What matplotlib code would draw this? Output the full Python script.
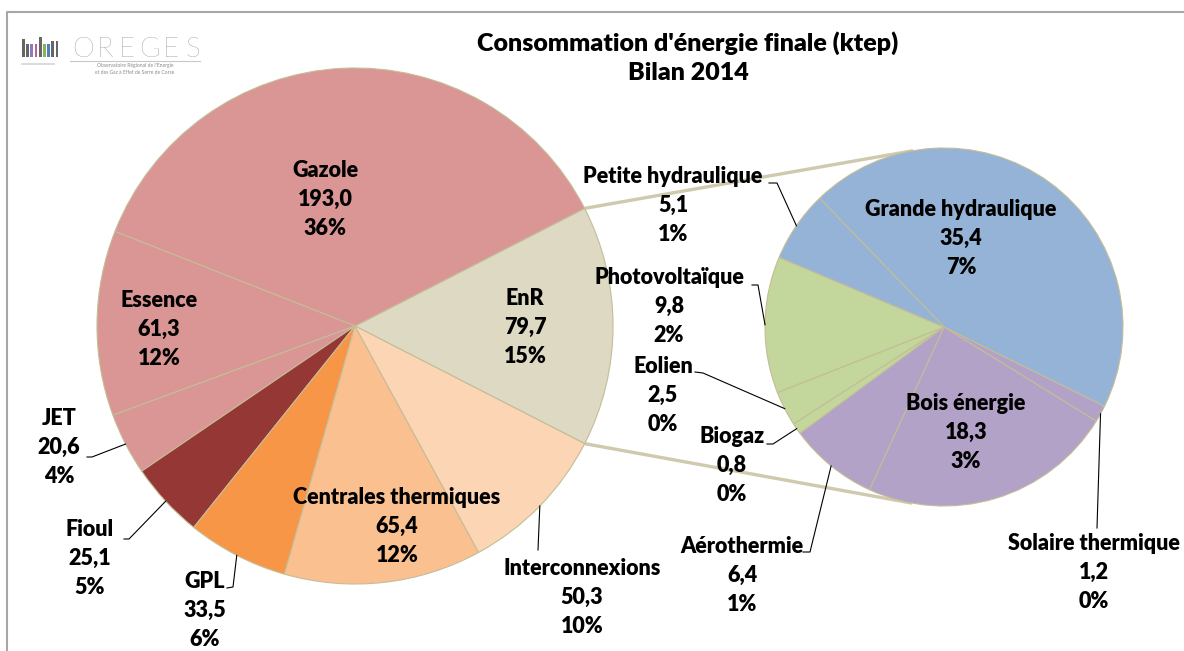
import numpy as np
import matplotlib
matplotlib.use("Agg")
import matplotlib.pyplot as plt
from matplotlib.patches import Rectangle

W, H = 1184, 651

# donnees (ktep)
main_labels = ["Gazole", "Essence", "JET", "Fioul", "GPL",
               "Centrales thermiques", "Interconnexions", "EnR"]
main_values = [193.0, 61.3, 20.6, 25.1, 33.5, 65.4, 50.3, 79.7]
main_colors = ["#D99694", "#D99694", "#D99694", "#953735", "#F79646",
               "#FAC090", "#FCD5B5", "#DDD9C3"]

sub_labels = ["Grande hydraulique", "Solaire thermique", "Bois énergie",
              "Aérothermie", "Biogaz", "Eolien", "Photovoltaïque",
              "Petite hydraulique"]
sub_values = [35.4, 1.2, 18.3, 6.4, 0.8, 2.5, 9.8, 5.1]
sub_colors = ["#95B3D7", "#B3A2C7", "#B3A2C7", "#B3A2C7",
              "#C3D69B", "#C3D69B", "#C3D69B", "#95B3D7"]

title_lines = ["Consommation d'énergie finale (ktep)", "Bilan 2014"]

# position des etiquettes (pixels, centre de la ligne du milieu)
label_pos = {
    "Gazole": (325, 199), "Essence": (159, 329), "EnR": (525, 327),
    "JET": (59, 447), "Fioul": (90, 558), "GPL": (205, 610),
    "Centrales thermiques": (397, 526), "Interconnexions": (582, 597),
    "Petite hydraulique": (673, 205), "Grande hydraulique": (961, 238),
    "Photovoltaïque": (669, 306), "Eolien": (663, 395), "Biogaz": (732, 465),
    "Bois énergie": (966, 432), "Aérothermie": (742, 575),
    "Solaire thermique": (1094, 572),
}
# traits de rappel : debut (+ coude), la fin est calculee sur le bord du secteur
leaders = {
    "JET": [(87, 457), (92, 457)],
    "Fioul": [(124, 539), (129, 539)],
    "GPL": [(227, 588), (233, 587)],
    "Interconnexions": [(538, 550)],
    "Petite hydraulique": [(769, 183), (777, 183)],
    "Photovoltaïque": [(752, 285), (758, 285)],
    "Eolien": [(695, 372), (703, 373)],
    "Biogaz": [(767, 444), (773, 444)],
    "Aérothermie": [(803, 552), (810, 552)],
    "Solaire thermique": [(1097, 528)],
}

plt.rcParams['font.family'] = ['Lato', 'DejaVu Sans']

fig = plt.figure(figsize=(W / 100, H / 100), dpi=100)
ax = fig.add_axes([0, 0, 1, 1])


def px(x, y):
    return (x, H - y)


edge = "#C4BD97"
total = sum(main_values)

# camembert principal, EnR centre a droite
enr = main_labels.index("EnR")
order = [enr] + [i for i in range(len(main_values)) if i != enr]
main_c, main_r = (355, 326), 258
wedges, _ = ax.pie([main_values[i] for i in order],
                   colors=[main_colors[i] for i in order],
                   center=px(*main_c), radius=main_r,
                   startangle=-180 * main_values[enr] / total,
                   explode=[4 / main_r if i == enr else 0 for i in order],
                   wedgeprops=dict(edgecolor=edge, linewidth=0.8))
main_w = {main_labels[i]: w for i, w in zip(order, wedges)}

# second camembert (EnR)
sub_c, sub_r = (944, 327), 179
sw, _ = ax.pie(sub_values, colors=sub_colors, center=px(*sub_c), radius=sub_r,
               startangle=134, counterclock=False,
               wedgeprops=dict(edgecolor=edge, linewidth=0.8))
sub_w = dict(zip(sub_labels, sw))
all_w = {**main_w, **sub_w}


# lignes de liaison (tangentes)
def tangent(p, c, r, sign):
    d = np.array(p) - np.array(c)
    base = np.arctan2(d[1], d[0])
    off = np.arccos(r / np.hypot(*d))
    a = base + sign * off
    return (c[0] + r * np.cos(a), c[1] + r * np.sin(a))


w = main_w["EnR"]
sc = px(*sub_c)
for th, sign in [(w.theta2, -1), (w.theta1, 1)]:
    p = (w.center[0] + w.r * np.cos(np.deg2rad(th)),
         w.center[1] + w.r * np.sin(np.deg2rad(th)))
    q = tangent(p, sc, sub_r, sign)
    ax.plot([p[0], q[0]], [p[1], q[1]], color="#CFC9AE", lw=2.4,
            solid_capstyle="butt", zorder=0.5)


def fmt(v):
    return f"{v:.1f}".replace(".", ",")


values = dict(zip(main_labels, main_values))
values.update(dict(zip(sub_labels, sub_values)))

for name, (cx, cy) in label_pos.items():
    v = values[name]
    lines = [name, fmt(v), f"{round(100 * v / total):.0f}%"]
    for k, line in enumerate(lines):
        ax.text(cx, H - (cy + (k - 1) * 29 + 7), line, ha="center",
                va="baseline", fontsize=15.5, fontweight="heavy", color="black")

for name, pts in leaders.items():
    w = all_w[name]
    a = np.deg2rad((w.theta1 + w.theta2) / 2)
    end = (w.center[0] + w.r * np.cos(a), w.center[1] + w.r * np.sin(a))
    xs = [p[0] for p in pts] + [end[0]]
    ys = [H - p[1] for p in pts] + [end[1]]
    ax.plot(xs, ys, color="black", lw=0.8)

# titre
for k, line in enumerate(title_lines):
    ax.text(688, H - (44 + 29 * k + 7), line, ha="center", va="baseline",
            fontsize=18, fontweight="heavy")

# cadre
ax.plot([7, 7, W], [0, H - 12, H - 12], color="#A6A6A6", lw=1.5)

# logo OREGES
bar_cols = ["#666666", "#666666", "#8E7CC3", "#C0609A", "#666666",
            "#8DB255", "#4F81BD", "#666666", "#666666"]
bar_h = [18, 13, 13, 13, 20, 13, 13, 16, 16]
for k, (c, h) in enumerate(zip(bar_cols, bar_h)):
    ax.add_patch(Rectangle((22 + k * 4.2, H - 57), 2.8, h, color=c, lw=0))
ax.plot([22, 54], [H - 64, H - 64], color="#D5D5D5", lw=1.2)
for k, ch in enumerate("OREGES"):
    ax.text(83 + k * 22, H - 57, ch, ha="center", va="baseline", fontsize=20,
            color="#707070", fontweight="light")
ax.plot([70, 200], [H - 61, H - 61], color="#C8C8C8", lw=0.8)
ax.text(135, H - 66, "Observatoire Régional de l'Energie", ha="center",
        va="center", fontsize=3.6, color="#8a8a8a")
ax.text(135, H - 72, "et des Gaz à Effet de Serre de Corse", ha="center",
        va="center", fontsize=3.6, color="#8a8a8a")

ax.set_xlim(0, W)
ax.set_ylim(0, H)
ax.set_aspect("auto")
ax.axis("off")

fig.savefig("out.png", dpi=100)
